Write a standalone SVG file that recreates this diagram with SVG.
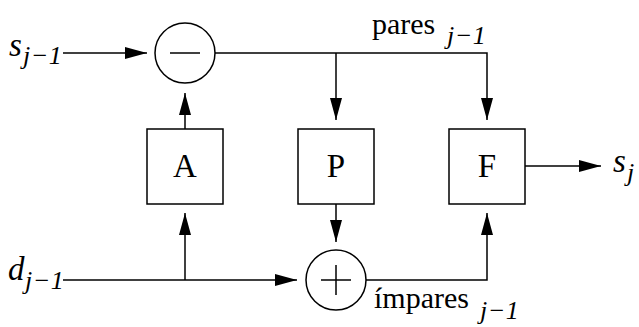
<svg xmlns="http://www.w3.org/2000/svg" width="639" height="327" viewBox="0 0 639 327">
<style>
.ln{fill:none;stroke:#000;stroke-width:1.5}
.bx{fill:#fff;stroke:#000;stroke-width:1.5}
.t{font-family:"Liberation Serif","Times New Roman",serif;fill:#000}
.big{font-size:33px}
.var{font-size:33px;font-style:italic}
.lab{font-size:30px}
.sub{font-size:26px;font-style:italic;letter-spacing:0.5px}
</style>
<defs>
<marker id="ar" markerUnits="userSpaceOnUse" markerWidth="22" markerHeight="12" refX="22" refY="6" orient="auto" overflow="visible">
<path d="M0,0 L22,6 L0,12 z" fill="#000"/>
</marker>
</defs>
<g id="connectors">
<line class="ln" x1="63" y1="53" x2="147" y2="53" marker-end="url(#ar)"/>
<polyline class="ln" points="215,53 487,53 487,120" marker-end="url(#ar)"/>
<line class="ln" x1="336" y1="53" x2="336" y2="120" marker-end="url(#ar)"/>
<line class="ln" x1="185" y1="129" x2="185" y2="93" marker-end="url(#ar)"/>
<line class="ln" x1="63" y1="280" x2="297" y2="280" marker-end="url(#ar)"/>
<line class="ln" x1="185" y1="280" x2="185" y2="213" marker-end="url(#ar)"/>
<line class="ln" x1="336" y1="204" x2="336" y2="242" marker-end="url(#ar)"/>
<polyline class="ln" points="366,280 487,280 487,213" marker-end="url(#ar)"/>
<line class="ln" x1="525" y1="166" x2="601" y2="166" marker-end="url(#ar)"/>
</g>
<g id="minus">
<circle class="ln" cx="185" cy="53" r="30"/>
<line class="ln" x1="170" y1="53" x2="200" y2="53"/>
</g>
<g id="plus">
<circle class="ln" cx="336" cy="280" r="30"/>
<line class="ln" x1="321" y1="280" x2="351" y2="280"/>
<line class="ln" x1="336" y1="265" x2="336" y2="295"/>
</g>
<g id="A">
<rect class="bx" x="147" y="129" width="76" height="75"/>
<text class="t big" x="185" y="177" text-anchor="middle">A</text>
</g>
<g id="P">
<rect class="bx" x="298" y="129" width="76" height="75"/>
<text class="t big" x="336" y="177" text-anchor="middle">P</text>
</g>
<g id="F">
<rect class="bx" x="449" y="129" width="76" height="75"/>
<text class="t big" x="487" y="177" text-anchor="middle">F</text>
</g>
<g id="labels">
<text class="t" x="9" y="56"><tspan class="var">s</tspan><tspan class="sub" x="23" y="64">j−1</tspan></text>
<text class="t" x="8" y="280"><tspan class="var">d</tspan><tspan class="sub" x="25" y="289">j−1</tspan></text>
<text class="t" x="372" y="34"><tspan class="lab">pares</tspan><tspan class="sub" x="447" y="44">j−1</tspan></text>
<text class="t" x="374" y="308"><tspan class="lab">ímpares</tspan><tspan class="sub" x="480" y="319">j−1</tspan></text>
<text class="t" x="613" y="172"><tspan class="var">s</tspan><tspan class="sub" x="627" y="181">j</tspan></text>
</g>
</svg>
